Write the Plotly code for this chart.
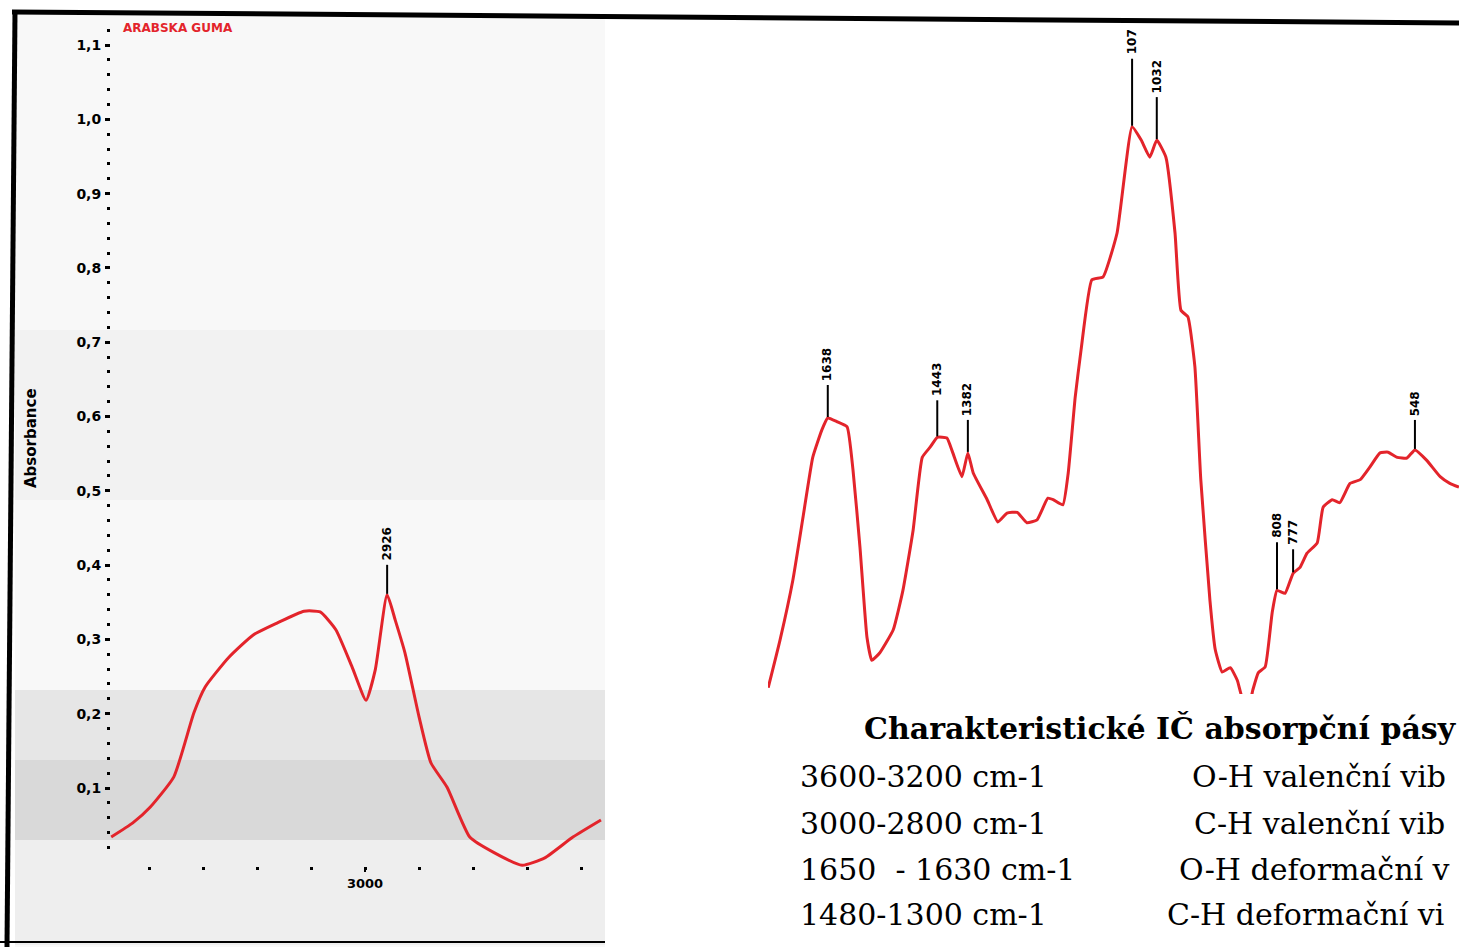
import plotly.graph_objects as go

W, H = 1459, 947

# ---------------- data ----------------
# Left panel (stretching region), wavenumber cm-1 vs absorbance
left_wn = [3470, 3430, 3398, 3354, 3317, 3296, 3252, 3207, 3163, 3113, 3083, 3054, 3024,
           2998, 2981, 2959, 2944, 2926, 2900, 2878, 2848, 2806, 2761, 2709, 2667, 2615, 2563]
left_abs = [0.034, 0.053, 0.074, 0.115, 0.201, 0.236, 0.276, 0.306, 0.322, 0.338, 0.337, 0.313, 0.263,
            0.218, 0.259, 0.360, 0.326, 0.282, 0.196, 0.134, 0.101, 0.034, 0.013, -0.004, 0.006, 0.034, 0.057]

# Right panel (fingerprint region)
right_wn = [1755, 1733, 1709, 1690, 1672, 1655, 1644, 1627, 1608, 1597, 1584, 1571, 1562, 1547,
            1522, 1504, 1485, 1468, 1453, 1440, 1422, 1411, 1394, 1383, 1373, 1347, 1327, 1310,
            1291, 1273, 1254, 1234, 1224, 1206, 1196, 1183, 1172, 1152, 1131, 1105, 1077, 1060,
            1044, 1031, 1014, 997, 986, 973, 960, 949, 932, 922, 909, 894, 881, 870, 857, 852,
            842, 829, 816, 807, 792, 777, 764, 751, 732, 721, 704, 690, 671, 652, 634, 615, 600,
            583, 565, 550, 528, 503, 485, 468]
right_abs = [0.235, 0.299, 0.380, 0.465, 0.545, 0.582, 0.598, 0.593, 0.586, 0.528, 0.424, 0.303,
             0.272, 0.282, 0.313, 0.366, 0.447, 0.545, 0.559, 0.572, 0.571, 0.551, 0.519, 0.551,
             0.524, 0.488, 0.458, 0.470, 0.471, 0.457, 0.461, 0.490, 0.488, 0.481, 0.524, 0.626,
             0.690, 0.784, 0.788, 0.847, 0.990, 0.972, 0.949, 0.972, 0.949, 0.847, 0.743, 0.734,
             0.667, 0.515, 0.353, 0.286, 0.256, 0.262, 0.245, 0.218, 0.218, 0.232, 0.255, 0.263,
             0.336, 0.366, 0.362, 0.389, 0.397, 0.416, 0.430, 0.478, 0.488, 0.484, 0.510, 0.515,
             0.532, 0.551, 0.552, 0.545, 0.544, 0.555, 0.541, 0.519, 0.510, 0.505]

left_peak_labels = ["2926"]
left_peak_wn = [2959]
left_peak_abs = [0.360]

right_peak_labels = ["1638", "1443", "1382", "107", "1032", "808", "777", "548"]
right_peak_wn = [1644, 1440, 1383, 1077, 1031, 807, 777, 550]
right_peak_abs = [0.598, 0.572, 0.551, 0.990, 0.972, 0.366, 0.389, 0.555]

y_tick_vals = [0.1, 0.2, 0.3, 0.4, 0.5, 0.6, 0.7, 0.8, 0.9, 1.0, 1.1]
y_tick_text = ["0,1", "0,2", "0,3", "0,4", "0,5", "0,6", "0,7", "0,8", "0,9", "1,0", "1,1"]
x_tick_vals = [3000]
x_tick_text = ["3000"]
x_minor_vals = [3400, 3300, 3200, 3100, 3000, 2900, 2800, 2700, 2600]
y_minor_vals = [round(0.02 * i, 2) for i in range(1, 57) if i % 5 != 0]

sample_name = "ARABSKA GUMA"
y_title = "Absorbance"
table_title = "Charakteristické IČ absorpční pásy"
table_ranges = ["3600-3200 cm-1", "3000-2800 cm-1", "1650  - 1630 cm-1", "1480-1300 cm-1"]
table_desc = ["O-H valenční vib", "C-H valenční vib", "O-H deformační v", "C-H deformační vi"]

# ---------------- layout helpers (pixel -> paper) ----------------
def px(x):
    return x / W

def py(y):
    return 1 - y / H

# y mapping: abs = (862.3 - ypx)/743
Y0, YS = 862.3, 743.0
yrange = [(Y0 - H) / YS, Y0 / YS]
# left x: 3000 at px 365, 0.54 px per cm-1, domain [0, 605]
LX_END = 605
left_range = [3000 + 365 / 0.54, 3000 - (LX_END - 365) / 0.54]
# right x: domain [768, W]
RX_START = 768
right_range = [1638 + (831 - RX_START) / 0.5367, 1638 - (W - 831) / 0.5367]

RED = "#e3242b"

fig = go.Figure()
fig.add_trace(go.Scatter(x=left_wn, y=left_abs, mode="lines",
                         line=dict(color=RED, width=3, shape="spline", smoothing=0.5),
                         xaxis="x", yaxis="y", hoverinfo="skip", showlegend=False))
fig.add_trace(go.Scatter(x=right_wn, y=right_abs, mode="lines",
                         line=dict(color=RED, width=3, shape="spline", smoothing=0.4),
                         xaxis="x2", yaxis="y", hoverinfo="skip", showlegend=False))

shapes = []
annotations = []

# scanned background bands of the left panel
bands = [
    (15, 15, 605, 947, "#f8f8f8"),
    (15, 330, 605, 500, "#f2f2f2"),
    (15, 690, 605, 760, "#e6e6e6"),
    (15, 760, 605, 840, "#d9d9d9"),
    (15, 840, 605, 945, "#eeeeee"),
]
for x0, y0, x1, y1, c in bands:
    shapes.append(dict(type="rect", xref="paper", yref="paper", x0=px(x0), x1=px(x1),
                       y0=py(y1), y1=py(y0), fillcolor=c, line=dict(width=0), layer="below"))

# white box covering spectrum under the table
shapes.append(dict(type="rect", xref="paper", yref="paper", x0=px(760), x1=1.0,
                   y0=0, y1=py(694), fillcolor="white", line=dict(width=0), layer="above"))

# frame lines
shapes.append(dict(type="line", xref="paper", yref="paper", x0=px(12), y0=py(12),
                   x1=1.0, y1=py(23), line=dict(color="black", width=5), layer="above"))
shapes.append(dict(type="line", xref="paper", yref="paper", x0=px(15), y0=py(12),
                   x1=px(7), y1=0, line=dict(color="black", width=5), layer="above"))
shapes.append(dict(type="line", xref="paper", yref="paper", x0=0, y0=py(942),
                   x1=px(605), y1=py(942), line=dict(color="black", width=2), layer="above"))

# peak labels
def add_peaks(labels, wns, absv, lens, xref):
    for lab, w, a, L in zip(labels, wns, absv, lens):
        top = a + L / YS
        shapes.append(dict(type="line", xref=xref, yref="y", x0=w, x1=w,
                           y0=a + 1 / YS, y1=top, line=dict(color="black", width=2),
                           layer="above"))
        annotations.append(dict(xref=xref, yref="y", x=w, y=top + 2 / YS, text=lab,
                                showarrow=False, textangle=-90, xanchor="center",
                                yanchor="bottom",
                                font=dict(family="DejaVu Sans", size=12, color="black",
                                          weight="bold")))

add_peaks(left_peak_labels, left_peak_wn, left_peak_abs, [30], "x")
add_peaks(right_peak_labels, right_peak_wn, right_peak_abs,
          [33, 37, 33, 68, 43, 48, 24, 30], "x2")

# sample name and y title
annotations.append(dict(xref="paper", yref="paper", x=px(121), y=py(28), text=sample_name,
                        showarrow=False, xanchor="left", yanchor="middle",
                        font=dict(family="DejaVu Sans", size=12, color=RED, weight="bold")))
annotations.append(dict(xref="paper", yref="paper", x=px(31), y=py(438), text=y_title,
                        showarrow=False, textangle=-90, xanchor="center", yanchor="middle",
                        font=dict(family="DejaVu Sans", size=15, color="black", weight="bold")))

# table text
serif = "DejaVu Serif"
annotations.append(dict(xref="paper", yref="paper", x=px(862), y=py(728), text=table_title,
                        showarrow=False, xanchor="left", yanchor="middle",
                        font=dict(family=serif, size=30, color="black", weight="bold")))
row_y = [776, 823, 869, 914]
desc_x = [1190, 1192, 1177, 1165]
for r, d, yy, dx in zip(table_ranges, table_desc, row_y, desc_x):
    annotations.append(dict(xref="paper", yref="paper", x=px(798), y=py(yy), text=r,
                            showarrow=False, xanchor="left", yanchor="middle",
                            font=dict(family=serif, size=30, color="black")))
    annotations.append(dict(xref="paper", yref="paper", x=px(dx), y=py(yy), text=d,
                            showarrow=False, xanchor="left", yanchor="middle",
                            font=dict(family=serif, size=30, color="black")))

tickfont = dict(family="DejaVu Sans", size=14, color="black", weight="bold")

fig.update_layout(
    width=W, height=H, margin=dict(l=0, r=0, t=0, b=0),
    paper_bgcolor="white", plot_bgcolor="rgba(0,0,0,0)",
    showlegend=False,
    xaxis=dict(domain=[0, px(LX_END)], range=left_range, anchor="free", position=py(866),
               showline=False, showgrid=False, zeroline=False,
               tickmode="array", tickvals=x_tick_vals, ticktext=x_tick_text,
               ticks="outside", ticklen=5, tickwidth=1.5, tickcolor="black",
               tickfont=dict(family="DejaVu Sans", size=13, color="black", weight="bold"),
               minor=dict(tickmode="array", tickvals=x_minor_vals, ticks="outside",
                          ticklen=3, tickwidth=3, tickcolor="black", showgrid=False)),
    xaxis2=dict(domain=[px(RX_START), 1], range=right_range, anchor="y", visible=False),
    yaxis=dict(domain=[0, 1], range=yrange, anchor="free", position=px(110),
               showline=False, showgrid=False, zeroline=False,
               tickmode="array", tickvals=y_tick_vals, ticktext=y_tick_text,
               ticks="outside", ticklen=5, tickwidth=2.5, tickcolor="black",
               tickfont=tickfont, ticklabelstandoff=1,
               minor=dict(tickmode="array", tickvals=y_minor_vals, ticks="outside",
                          ticklen=3, tickwidth=3, tickcolor="black", showgrid=False)),
    shapes=shapes, annotations=annotations,
)

fig.write_html("out.html")
